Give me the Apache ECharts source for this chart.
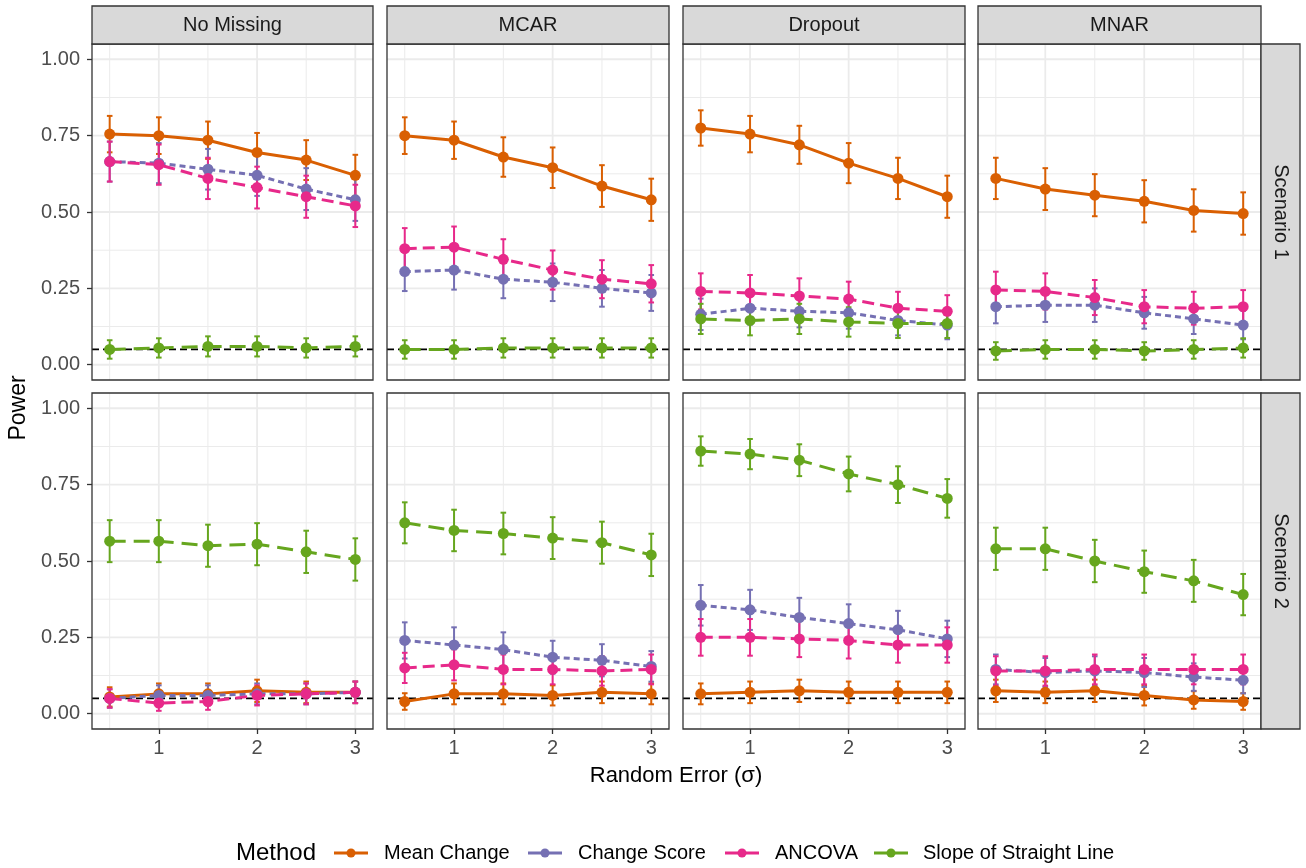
<!DOCTYPE html>
<html><head><meta charset="utf-8">
<script src="https://cdn.jsdelivr.net/npm/echarts@6/dist/echarts.min.js"></script>
<style>html,body{margin:0;padding:0;background:#fff}#chart{width:1306px;height:868px}</style>
</head><body><div id="chart"></div>
<script>
// ---------------- DATA ----------------
const xValues = [0.5, 1, 1.5, 2, 2.5, 3];
const xTicks = [1, 2, 3];
const xMinorTicks = [0.5, 1.5, 2.5];
const yTicks = [0, 0.25, 0.5, 0.75, 1];
const yMinorTicks = [0.125, 0.375, 0.625, 0.875];
const missingTypes = ['No Missing', 'MCAR', 'Dropout', 'MNAR'];
const scenarios = ['Scenario 1', 'Scenario 2'];
const methods = ['Mean Change', 'Change Score', 'ANCOVA', 'Slope of Straight Line'];
const nRep = 200;          // replications used for the binomial CI
const alphaLevel = 0.05;   // dashed reference line

// Scenario 1
const s1NoMissingMC = [0.755, 0.750, 0.735, 0.695, 0.670, 0.620];
const s1NoMissingCS = [0.665, 0.660, 0.640, 0.620, 0.575, 0.540];
const s1NoMissingAN = [0.665, 0.655, 0.610, 0.580, 0.550, 0.520];
const s1NoMissingSL = [0.050, 0.055, 0.060, 0.060, 0.055, 0.060];

const s1McarMC = [0.750, 0.735, 0.680, 0.645, 0.585, 0.540];
const s1McarCS = [0.305, 0.310, 0.280, 0.270, 0.250, 0.235];
const s1McarAN = [0.380, 0.385, 0.345, 0.310, 0.280, 0.265];
const s1McarSL = [0.050, 0.050, 0.055, 0.055, 0.055, 0.055];

const s1DropoutMC = [0.775, 0.755, 0.720, 0.660, 0.610, 0.550];
const s1DropoutCS = [0.165, 0.185, 0.175, 0.170, 0.145, 0.130];
const s1DropoutAN = [0.240, 0.235, 0.225, 0.215, 0.185, 0.175];
const s1DropoutSL = [0.150, 0.145, 0.150, 0.140, 0.135, 0.135];

const s1MnarMC = [0.610, 0.575, 0.555, 0.535, 0.505, 0.495];
const s1MnarCS = [0.190, 0.195, 0.195, 0.170, 0.150, 0.130];
const s1MnarAN = [0.245, 0.240, 0.220, 0.190, 0.185, 0.190];
const s1MnarSL = [0.045, 0.050, 0.050, 0.045, 0.050, 0.055];

// Scenario 2
const s2NoMissingMC = [0.055, 0.065, 0.065, 0.075, 0.070, 0.070];
const s2NoMissingCS = [0.050, 0.060, 0.060, 0.065, 0.065, 0.070];
const s2NoMissingAN = [0.050, 0.035, 0.040, 0.060, 0.065, 0.070];
const s2NoMissingSL = [0.565, 0.565, 0.550, 0.555, 0.530, 0.505];

const s2McarMC = [0.040, 0.065, 0.065, 0.060, 0.070, 0.065];
const s2McarCS = [0.240, 0.225, 0.210, 0.185, 0.175, 0.155];
const s2McarAN = [0.150, 0.160, 0.145, 0.145, 0.140, 0.145];
const s2McarSL = [0.625, 0.600, 0.590, 0.575, 0.560, 0.520];

const s2DropoutMC = [0.065, 0.070, 0.075, 0.070, 0.070, 0.070];
const s2DropoutCS = [0.355, 0.340, 0.315, 0.295, 0.275, 0.245];
const s2DropoutAN = [0.250, 0.250, 0.245, 0.240, 0.225, 0.225];
const s2DropoutSL = [0.860, 0.850, 0.830, 0.785, 0.750, 0.705];

const s2MnarMC = [0.075, 0.070, 0.075, 0.060, 0.045, 0.040];
const s2MnarCS = [0.145, 0.135, 0.140, 0.135, 0.120, 0.110];
const s2MnarAN = [0.140, 0.140, 0.145, 0.145, 0.145, 0.145];
const s2MnarSL = [0.540, 0.540, 0.500, 0.465, 0.435, 0.390];

const panelData = [
  [[s1NoMissingMC, s1NoMissingCS, s1NoMissingAN, s1NoMissingSL],
   [s1McarMC, s1McarCS, s1McarAN, s1McarSL],
   [s1DropoutMC, s1DropoutCS, s1DropoutAN, s1DropoutSL],
   [s1MnarMC, s1MnarCS, s1MnarAN, s1MnarSL]],
  [[s2NoMissingMC, s2NoMissingCS, s2NoMissingAN, s2NoMissingSL],
   [s2McarMC, s2McarCS, s2McarAN, s2McarSL],
   [s2DropoutMC, s2DropoutCS, s2DropoutAN, s2DropoutSL],
   [s2MnarMC, s2MnarCS, s2MnarAN, s2MnarSL]]
];

// ---------------- STYLE / LAYOUT ----------------
const colors = ['#D95F02', '#7570B3', '#E7298A', '#66A61E'];
const dashes = ['solid', [6, 4], [12, 6], [16, 8]];
const FONT = 'Liberation Sans, Arial, Helvetica, sans-serif';
const colL = [92, 387, 683, 978], colW = [281, 282, 282, 283];
const rowT = [44, 393], rowH = 336;
const stripTop = 6, stripRightX = 1261, stripRightW = 39;

const grids = [], xAxes = [], yAxes = [], series = [], graphics = [];

function gridRender(params, api) {
  const cs = params.coordSys;
  const v = api.value(0), kind = api.value(1);
  if (kind === 0 || kind === 1 || kind === 4) {
    const y = api.coord([1, v])[1];
    return {
      type: 'line', silent: true,
      shape: { x1: cs.x, y1: y, x2: cs.x + cs.width, y2: y },
      style: kind === 4
        ? { stroke: '#000', lineWidth: 1.8, lineDash: [7, 4] }
        : { stroke: '#EBEBEB', lineWidth: kind === 0 ? 1.8 : 1 }
    };
  }
  const x = api.coord([v, 0])[0];
  return {
    type: 'line', silent: true,
    shape: { x1: x, y1: cs.y, x2: x, y2: cs.y + cs.height },
    style: { stroke: '#EBEBEB', lineWidth: kind === 2 ? 1.8 : 1 }
  };
}

function errRender(params, api) {
  const x = api.value(0);
  const top = api.coord([x, api.value(2)]);
  const bot = api.coord([x, api.value(1)]);
  const col = api.visual('color');
  const hw = 2.8;
  const st = { stroke: col, lineWidth: 2 };
  return {
    type: 'group', children: [
      { type: 'line', shape: { x1: top[0], y1: top[1], x2: bot[0], y2: bot[1] }, style: st },
      { type: 'line', shape: { x1: top[0] - hw, y1: top[1], x2: top[0] + hw, y2: top[1] }, style: st },
      { type: 'line', shape: { x1: bot[0] - hw, y1: bot[1], x2: bot[0] + hw, y2: bot[1] }, style: st }
    ]
  };
}

for (let r = 0; r < 2; r++) {
  for (let c = 0; c < 4; c++) {
    const idx = r * 4 + c;
    grids.push({ left: colL[c], top: rowT[r], width: colW[c], height: rowH, show: false });
    xAxes.push({
      gridIndex: idx, type: 'value', min: 0.32, max: 3.18,
      axisLine: { show: true, onZero: false, lineStyle: { color: 'rgba(0,0,0,0)' } }, splitLine: { show: false },
      axisTick: { show: r === 1, customValues: xTicks, length: 5, lineStyle: { color: '#333333', width: 1.3 } },
      axisLabel: { show: r === 1, customValues: xTicks, color: '#4D4D4D', fontSize: 20, margin: 9, fontFamily: FONT }
    });
    yAxes.push({
      gridIndex: idx, type: 'value', min: -0.05, max: 1.05,
      axisLine: { show: true, onZero: false, lineStyle: { color: 'rgba(0,0,0,0)' } }, splitLine: { show: false },
      axisTick: { show: c === 0, customValues: yTicks, length: 5, lineStyle: { color: '#333333', width: 1.3 } },
      axisLabel: { show: c === 0, customValues: yTicks, color: '#4D4D4D', fontSize: 20, margin: 12, fontFamily: FONT,
        formatter: v => v.toFixed(2) }
    });
    const gridItems = []
      .concat(yMinorTicks.map(v => [v, 1]))
      .concat(xMinorTicks.map(v => [v, 3]))
      .concat(yTicks.map(v => [v, 0]))
      .concat(xTicks.map(v => [v, 2]))
      .concat([[alphaLevel, 4]]);
    series.push({
      type: 'custom', xAxisIndex: idx, yAxisIndex: idx, silent: true, clip: false,
      renderItem: gridRender, data: gridItems, z: 1, animation: false
    });
    for (let m = 0; m < 4; m++) {
      const vals = panelData[r][c][m];
      const errData = xValues.map((x, i) => {
        const p = vals[i];
        const h = 1.96 * Math.sqrt(p * (1 - p) / nRep);
        return [x, p - h, p + h];
      });
      series.push({
        type: 'custom', name: methods[m], xAxisIndex: idx, yAxisIndex: idx, silent: true,
        itemStyle: { color: colors[m] }, renderItem: errRender, data: errData, z: 2, animation: false,
        encode: { x: 0, y: [1, 2] }
      });
      series.push({
        type: 'line', name: methods[m], xAxisIndex: idx, yAxisIndex: idx, silent: true,
        data: xValues.map((x, i) => [x, vals[i]]),
        symbol: 'circle', symbolSize: 11, showSymbol: true,
        itemStyle: { color: colors[m] },
        lineStyle: { color: colors[m], width: 3, type: dashes[m] },
        z: 2, animation: false
      });
    }
    // panel border (on top)
    graphics.push({ type: 'rect', z: 100, silent: true,
      shape: { x: colL[c], y: rowT[r], width: colW[c], height: rowH },
      style: { fill: 'none', stroke: '#333333', lineWidth: 1.3 } });
  }
}

// top strips
for (let c = 0; c < 4; c++) {
  graphics.push({ type: 'rect', z: 100, silent: true,
    shape: { x: colL[c], y: stripTop, width: colW[c], height: rowT[0] - stripTop },
    style: { fill: '#D9D9D9', stroke: '#333333', lineWidth: 1.3 } });
  graphics.push({ type: 'text', z: 101, silent: true,
    x: colL[c] + colW[c] / 2, y: (stripTop + rowT[0]) / 2,
    style: { text: missingTypes[c], fill: '#1A1A1A', font: '20px ' + FONT, align: 'center', verticalAlign: 'middle' } });
}
// right strips
for (let r = 0; r < 2; r++) {
  graphics.push({ type: 'rect', z: 100, silent: true,
    shape: { x: stripRightX, y: rowT[r], width: stripRightW, height: rowH },
    style: { fill: '#D9D9D9', stroke: '#333333', lineWidth: 1.3 } });
  graphics.push({ type: 'text', z: 101, silent: true,
    x: stripRightX + stripRightW / 2, y: rowT[r] + rowH / 2, rotation: -Math.PI / 2,
    style: { text: scenarios[r], fill: '#1A1A1A', font: '20px ' + FONT, align: 'center', verticalAlign: 'middle' } });
}
// axis titles
graphics.push({ type: 'text', silent: true, x: 676, y: 776,
  style: { text: 'Random Error (σ)', fill: '#000', font: '22px ' + FONT, align: 'center', verticalAlign: 'middle' } });
graphics.push({ type: 'text', silent: true, x: 19, y: 408, rotation: Math.PI / 2,
  style: { text: 'Power', fill: '#000', font: '23px ' + FONT, align: 'center', verticalAlign: 'middle' } });

// legend
const legY = 853;
const keyCx = [351, 545, 742, 891];
const labX = [384, 578, 775, 923];
graphics.push({ type: 'text', silent: true, x: 236, y: legY,
  style: { text: 'Method', fill: '#000', font: '24px ' + FONT, align: 'left', verticalAlign: 'middle' } });
for (let m = 0; m < 4; m++) {
  graphics.push({ type: 'line', silent: true,
    shape: { x1: keyCx[m] - 17, y1: legY, x2: keyCx[m] + 17, y2: legY },
    style: { stroke: colors[m], lineWidth: 3 } });
  graphics.push({ type: 'circle', silent: true,
    shape: { cx: keyCx[m], cy: legY, r: 4.5 }, style: { fill: colors[m] } });
  graphics.push({ type: 'text', silent: true, x: labX[m], y: legY,
    style: { text: methods[m], fill: '#000', font: '20px ' + FONT, align: 'left', verticalAlign: 'middle' } });
}

const chart = echarts.init(document.getElementById('chart'), null, { renderer: 'canvas' });
chart.setOption({
  animation: false,
  backgroundColor: '#ffffff',
  grid: grids, xAxis: xAxes, yAxis: yAxes, series: series,
  graphic: { elements: graphics }
});
</script></body></html>
